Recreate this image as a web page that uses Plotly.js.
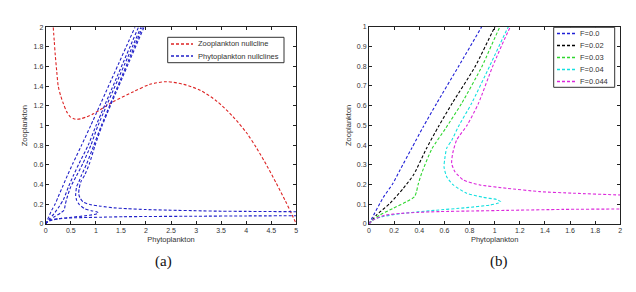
<!DOCTYPE html>
<html>
<head>
<meta charset="utf-8">
<script src="https://cdn.plot.ly/plotly-3.0.1.min.js"></script>
<style>html,body{margin:0;padding:0;background:#fff;}#chart{width:636px;height:292px;}</style>
</head>
<body>
<div id="chart"></div>
<script>
// Zooplankton nullcline (panel a)
var zooX = [0.15,0.17,0.19,0.22,0.25,0.30,0.35,0.42,0.49,0.56,0.61,0.70,0.82,0.95,1.08,1.35,1.75,2.08,2.41,2.75,3.08,3.41,3.74,4.01,4.21,4.41,4.60,4.78,4.92,5.0];
var zooY = [2.0,1.86,1.72,1.55,1.40,1.30,1.227,1.14,1.09,1.07,1.064,1.07,1.09,1.12,1.16,1.244,1.345,1.42,1.447,1.42,1.36,1.25,1.09,0.925,0.77,0.595,0.415,0.236,0.088,0.0];

// Phytoplankton nullclines for each F
var fLabels = ['F=0.0','F=0.02','F=0.03','F=0.04','F=0.044'];

var f0X = [0,0.02,0.114,0.19,0.247,0.34,0.432,0.539,0.711,0.897,1.78];
var f0Y = [0,0.025,0.135,0.205,0.274,0.384,0.493,0.612,0.797,1.0,2.0];

var f1X = [0,0.061,0.167,0.273,0.355,0.455,0.552,0.665,0.844,1.003,1.85];
var f1Y = [0,0.046,0.105,0.181,0.25,0.38,0.493,0.615,0.797,1.0,2.0];

var f2X = [0,0.03,0.088,0.193,0.3,0.362,0.378,0.39,0.419,0.5,0.61,0.738,0.9,1.043,1.90];
var f2Y = [0,0.02,0.046,0.08,0.113,0.138,0.164,0.198,0.257,0.38,0.485,0.612,0.8,1.0,2.0];

var f3X = [0,0.03,0.1,0.257,0.52,0.777,0.963,1.03,1.048,1.016,0.91,0.777,0.671,0.618,0.597,0.603,0.618,0.66,0.711,0.817,0.96,1.109,1.93];
var f3Y = [0,0.02,0.036,0.053,0.069,0.083,0.096,0.106,0.113,0.124,0.135,0.156,0.198,0.24,0.29,0.33,0.384,0.426,0.493,0.612,0.8,1.0,2.0];

var f4X = [1.96,1.125,0.985,0.87,0.78,0.698,0.666,0.658,0.684,0.751,0.883,1.096,1.361,1.626,2.0,2.5,3.0,3.5,4.0,5.0,null,0,0.03,0.125,0.26,0.39,0.565,0.83,1.096,1.546,2.0,3.0,4.0,5.0];
var f4Y = [2.0,1.0,0.8,0.61,0.5,0.426,0.358,0.307,0.265,0.223,0.198,0.181,0.164,0.156,0.147,0.14,0.135,0.13,0.128,0.125,null,0,0.02,0.044,0.054,0.059,0.063,0.066,0.069,0.074,0.076,0.079,0.082,0.084];

var phyX = [f0X,f1X,f2X,f3X,f4X];
var phyY = [f0Y,f1Y,f2Y,f3Y,f4Y];
var fColors = ['#1f1fd6','#000000','#2ed62e','#14e0e0','#dc28dc'];
var zooColor = '#dd2424', phyColor = '#2020c8';
var legendA = ['Zooplankton nullcline','Phytoplankton nullclines'];

var DASH = '3px,2px';
var W = 636, H = 292;
var traces = [];

traces.push({x: zooX, y: zooY, xaxis:'x', yaxis:'y', mode:'lines', name:legendA[0], showlegend:false,
  line:{color:zooColor, width:1.1, dash:DASH, shape:'spline', smoothing:0.8}, hoverinfo:'skip'});

for (var i = 0; i < 5; i++) {
  traces.push({x: phyX[i], y: phyY[i], xaxis:'x', yaxis:'y', mode:'lines', name:legendA[1],
    showlegend:false, connectgaps:false,
    line:{color:phyColor, width:1.1, dash:DASH, shape:'spline', smoothing:0.6}, hoverinfo:'skip'});
}
for (var j = 0; j < 5; j++) {
  traces.push({x: phyX[j], y: phyY[j], xaxis:'x2', yaxis:'y2', mode:'lines', name:fLabels[j], showlegend:false,
    connectgaps:false,
    line:{color:fColors[j], width:1.1, dash:DASH, shape:'spline', smoothing:0.6}, hoverinfo:'skip'});
}

var FONT = 'Liberation Sans, Arial, sans-serif';
var tickFont = {family:FONT, size:7, color:'#333'};
var titleFont = {family:FONT, size:7.5, color:'#333'};
function ax(o) {
  var base = {showline:true, linecolor:'#222', linewidth:1, mirror:'ticks', ticks:'inside', ticklen:3,
    tickcolor:'#222', tickwidth:1, showgrid:false, zeroline:false, tickfont:tickFont, fixedrange:true};
  for (var k in o) base[k] = o[k];
  return base;
}

// Compact MATLAB-style legends (box, dashed sample, label), placed in paper space
var shapes = [], annotations = [];
function px(v){ return v / W; }
function py(v){ return 1 - v / H; }
function makeLegend(left, top, right, bottom, labels, colors, rowStart, rowGap, sx0, sx1, tx) {
  shapes.push({type:'rect', xref:'paper', yref:'paper', x0:px(left), x1:px(right), y0:py(bottom), y1:py(top),
    line:{color:'#333', width:1}, fillcolor:'#fff', layer:'above'});
  for (var k = 0; k < labels.length; k++) {
    var yy = rowStart + k * rowGap;
    shapes.push({type:'line', xref:'paper', yref:'paper', x0:px(sx0), x1:px(sx1), y0:py(yy), y1:py(yy),
      line:{color:colors[k], width:1.4, dash:DASH}, layer:'above'});
    annotations.push({text:labels[k], xref:'paper', yref:'paper', x:px(tx), y:py(yy), xanchor:'left', yanchor:'middle',
      showarrow:false, font:{family:FONT, size:7.5, color:'#333'}});
  }
}
makeLegend(167.7, 37.3, 284, 62.7, legendA, [zooColor, phyColor], 44, 12, 171, 193, 196);
makeLegend(553.7, 27.3, 614.7, 87.3, fLabels, fColors, 33.5, 12, 557, 576, 578);

annotations.push({text:'(a)', xref:'paper', yref:'paper', x:0.257, y:0.103, xanchor:'center', yanchor:'middle', showarrow:false,
  font:{family:'Liberation Serif, Times New Roman, serif', size:15, color:'#111'}});
annotations.push({text:'(b)', xref:'paper', yref:'paper', x:0.7846, y:0.103, xanchor:'center', yanchor:'middle', showarrow:false,
  font:{family:'Liberation Serif, Times New Roman, serif', size:15, color:'#111'}});

var layout = {
  width:W, height:H, autosize:false,
  margin:{l:0, r:0, t:0, b:0},
  paper_bgcolor:'#fff', plot_bgcolor:'#fff',
  showlegend:false,
  xaxis: ax({domain:[0.0719,0.4659], range:[0,5], dtick:0.5, tick0:0, anchor:'y',
    title:{text:'Phytoplankton', font:titleFont, standoff:3}}),
  yaxis: ax({domain:[0.2329,0.9065], range:[0,2], dtick:0.2, tick0:0, anchor:'x',
    title:{text:'Zooplankton', font:titleFont, standoff:4}}),
  xaxis2: ax({domain:[0.5802,0.9753], range:[0,2], dtick:0.2, tick0:0, anchor:'y2',
    title:{text:'Phytoplankton', font:titleFont, standoff:3}}),
  yaxis2: ax({domain:[0.2329,0.9086], range:[0,1], dtick:0.1, tick0:0, anchor:'x2',
    title:{text:'Zooplankton', font:titleFont, standoff:4}}),
  shapes: shapes,
  annotations: annotations
};

Plotly.newPlot('chart', traces, layout, {displayModeBar:false, staticPlot:true});
</script>
</body>
</html>
